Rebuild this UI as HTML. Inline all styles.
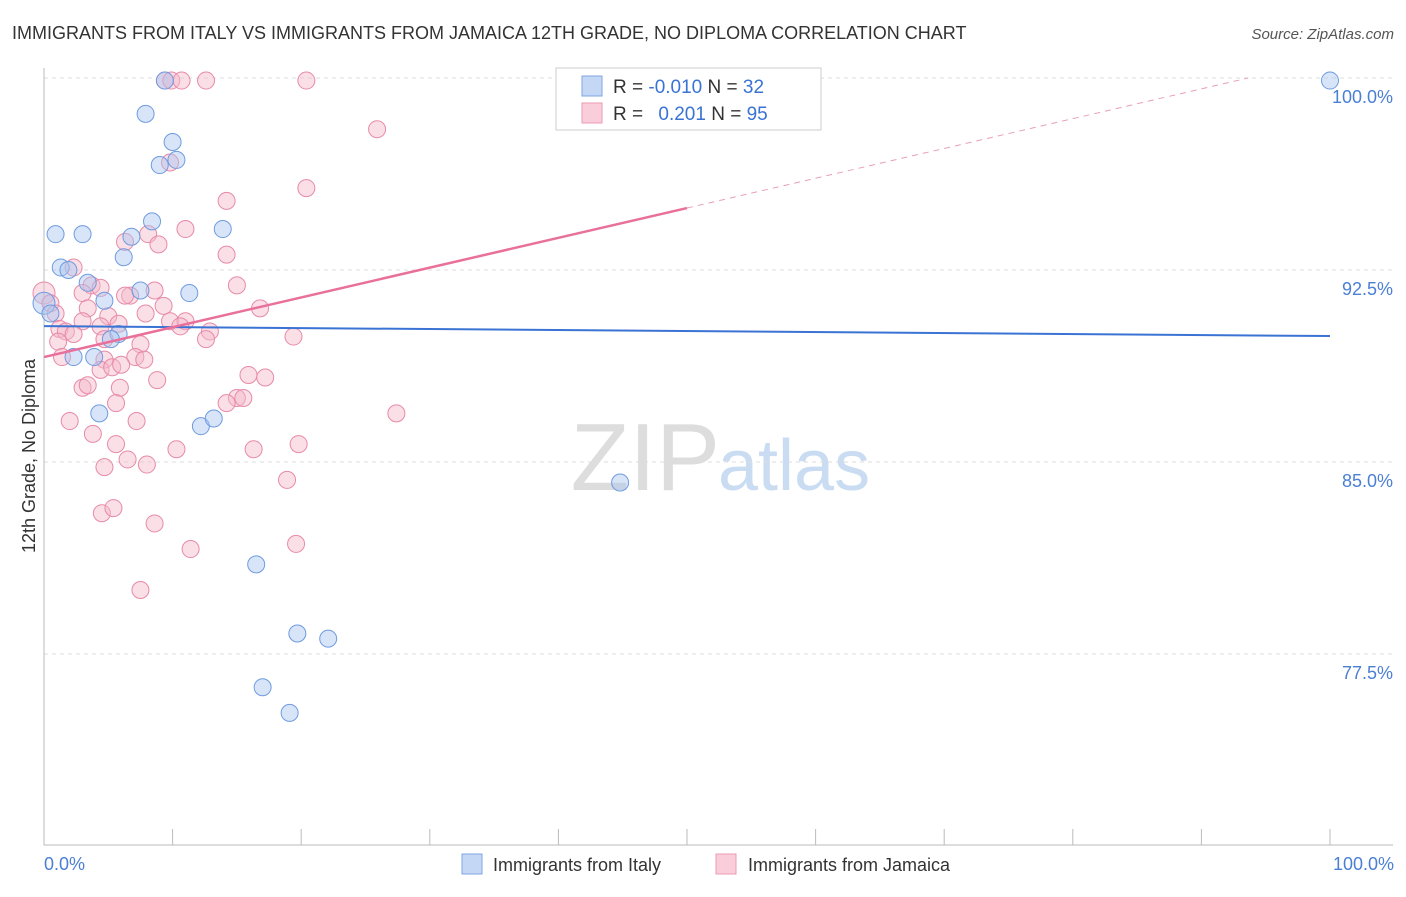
<!DOCTYPE html>
<html><head><meta charset="utf-8"><style>
body{margin:0;background:#fff;font-family:"Liberation Sans",sans-serif;}
svg text{font-family:"Liberation Sans",sans-serif;}
</style></head><body>
<svg id="c" width="1406" height="892">
<text x="12" y="39" font-size="18" fill="#333">IMMIGRANTS FROM ITALY VS IMMIGRANTS FROM JAMAICA 12TH GRADE, NO DIPLOMA CORRELATION CHART</text>
<text x="1394" y="39" font-size="15" fill="#555" font-style="italic" text-anchor="end">Source: ZipAtlas.com</text>
<text x="720" y="490" font-size="96" fill="#ddd" text-anchor="end" font-family="Liberation Serif">ZIP</text>
<text x="718" y="490" font-size="72" fill="#c9dcf2">atlas</text>
<g id="grid"></g><g id="marks"></g>
<text transform="translate(35,456) rotate(-90)" font-size="18" fill="#333" text-anchor="middle">12th Grade, No Diploma</text>
<text x="44" y="870" font-size="18" fill="#4a7fd4">0.0%</text>
<text x="1394" y="870" font-size="18" fill="#4a7fd4" text-anchor="end">100.0%</text>
<g>
<rect x="462" y="854" width="20" height="20" fill="#c4d8f5" stroke="#7fa6e4"/>
<text x="493" y="871" font-size="18" fill="#333">Immigrants from Italy</text>
<rect x="716" y="854" width="20" height="20" fill="#f9cdd9" stroke="#eb9ab4"/>
<text x="748" y="871" font-size="18" fill="#333">Immigrants from Jamaica</text>
</g>
<g>
<rect x="556" y="68" width="265" height="62" fill="#fff" stroke="#ccc"/>
<rect x="582" y="76" width="20" height="20" fill="#c4d8f5" stroke="#7fa6e4"/>
<rect x="582" y="103" width="20" height="20" fill="#f9cdd9" stroke="#eb9ab4"/>
<text x="613" y="93" font-size="19" fill="#333">R = <tspan fill="#3a73d4">-0.010</tspan>   N = <tspan fill="#3a73d4">32</tspan></text>
<text x="613" y="120" font-size="19" fill="#333">R = <tspan fill="#3a73d4" dx="10">0.201</tspan>   N = <tspan fill="#3a73d4">95</tspan></text>
</g>
</svg>
<script>
const yTicks=[77.5,85.0,92.5,100.0];
const italyX=[9.4,7.9,10.0,9.0,10.3,8.4,13.9,0.9,3.0,6.8,6.2,1.3,1.9,3.4,7.5,11.3,4.7,0,0.5,5.8,5.2,2.3,3.9,4.3,12.2,13.2,44.8,16.5,19.7,22.1,17.0,19.1,100];
const italyY=[99.9,98.6,97.5,96.6,96.8,94.4,94.1,93.9,93.9,93.8,93.0,92.6,92.5,92.0,91.7,91.6,91.3,91.2,90.8,90.0,89.8,89.1,89.1,86.9,86.4,86.7,84.2,81.0,78.3,78.1,76.2,75.2,99.9];
const jamX=[9.4,9.9,10.7,12.6,20.4,25.9,9.8,20.4,14.2,11.0,8.1,6.3,8.9,14.2,2.3,3.7,4.4,15.0,8.6,6.7,6.3,3.0,9.3,16.8,0,0.5,0.9,3.4,5.0,7.9,9.8,11.0,10.6,3.0,4.4,5.8,1.2,1.7,2.3,12.9,12.6,19.4,1.1,4.7,7.5,1.4,4.7,7.1,7.8,4.4,5.3,6.0,8.8,3.0,3.4,5.9,15.9,17.2,15.0,15.5,14.2,5.6,27.4,2.0,7.2,3.8,10.3,16.3,19.8,4.7,6.5,8.0,5.6,18.9,4.5,5.4,8.6,11.4,19.6,7.5];
const jamY=[99.9,99.9,99.9,99.9,99.9,98.0,96.7,95.7,95.2,94.1,93.9,93.6,93.5,93.1,92.6,91.9,91.8,91.9,91.7,91.5,91.5,91.6,91.1,91.0,91.6,91.2,90.8,91.0,90.7,90.8,90.5,90.5,90.3,90.5,90.3,90.4,90.2,90.1,90.0,90.1,89.8,89.9,89.7,89.8,89.6,89.1,89.0,89.1,89.0,88.6,88.7,88.8,88.2,87.9,88.0,87.9,88.4,88.3,87.5,87.5,87.3,87.3,86.9,86.6,86.6,86.1,85.5,85.5,85.7,84.8,85.1,84.9,85.7,84.3,83.0,83.2,82.6,81.6,81.8,80.0];
const italyTrend=[90.31,89.92];
const jamTrend=[89.10,100.74];
const X0=44,X1=1330,YT=78,PX=25.6;
const xs=v=>X0+(X1-X0)*v/100;
const ys=v=>YT+(100-v)*PX;
const NS='http://www.w3.org/2000/svg';
const grid=document.getElementById('grid'),marks=document.getElementById('marks');
function mk(p,tag,a){const e=document.createElementNS(NS,tag);for(const k in a)e.setAttribute(k,a[k]);p.appendChild(e);return e;}
yTicks.forEach(t=>{
 const l=mk(grid,'line',{x1:44,x2:1393,y1:ys(t),y2:ys(t),stroke:'#ddd','stroke-dasharray':'4,4'});
 
 
 const tx=mk(grid,'text',{x:1393,y:ys(t)+25,'font-size':18,fill:'#4a7fd4','text-anchor':'end'});
 tx.textContent=t.toFixed(1)+'%';
 
 
});
const ax=mk(grid,'path',{d:'M44,68V845H1393',stroke:'#bbb',fill:'none'});


for(let i=0;i<=10;i++){const tk=mk(grid,'line',{x1:xs(i*10),x2:xs(i*10),y1:829,y2:845,stroke:'#bbb'});
 
 }
function pts(X,Y,fill,stroke,name){X.forEach((x,i)=>{const c=mk(marks,'circle',{cx:xs(x),cy:ys(Y[i]),r:(x===0?11:8.5),fill:fill,'fill-opacity':0.45,stroke:stroke,'stroke-width':1});
 
 });}
pts(jamX,jamY,'#f5b8c9','#e88aa8','jamaica-point');
pts(italyX,italyY,'#a9c6f0','#6f9be0','italy-point');
const bl=mk(marks,'line',{x1:xs(0),y1:ys(italyTrend[0]),x2:xs(100),y2:ys(italyTrend[1]),stroke:'#3a73d4','stroke-width':2});


const jy=x=>jamTrend[0]+(jamTrend[1]-jamTrend[0])*x/100;
const xe=(100-jamTrend[0])/(jamTrend[1]-jamTrend[0])*100;
const pl=mk(marks,'line',{x1:xs(0),y1:ys(jy(0)),x2:xs(50),y2:ys(jy(50)),stroke:'#e8709a','stroke-width':2.5});


const pd=mk(marks,'line',{x1:xs(50),y1:ys(jy(50)),x2:xs(Math.min(100,xe)),y2:ys(jy(Math.min(100,xe))),stroke:'#e8a0b8','stroke-width':1,'stroke-dasharray':'6,5'});


</script>
</body></html>
